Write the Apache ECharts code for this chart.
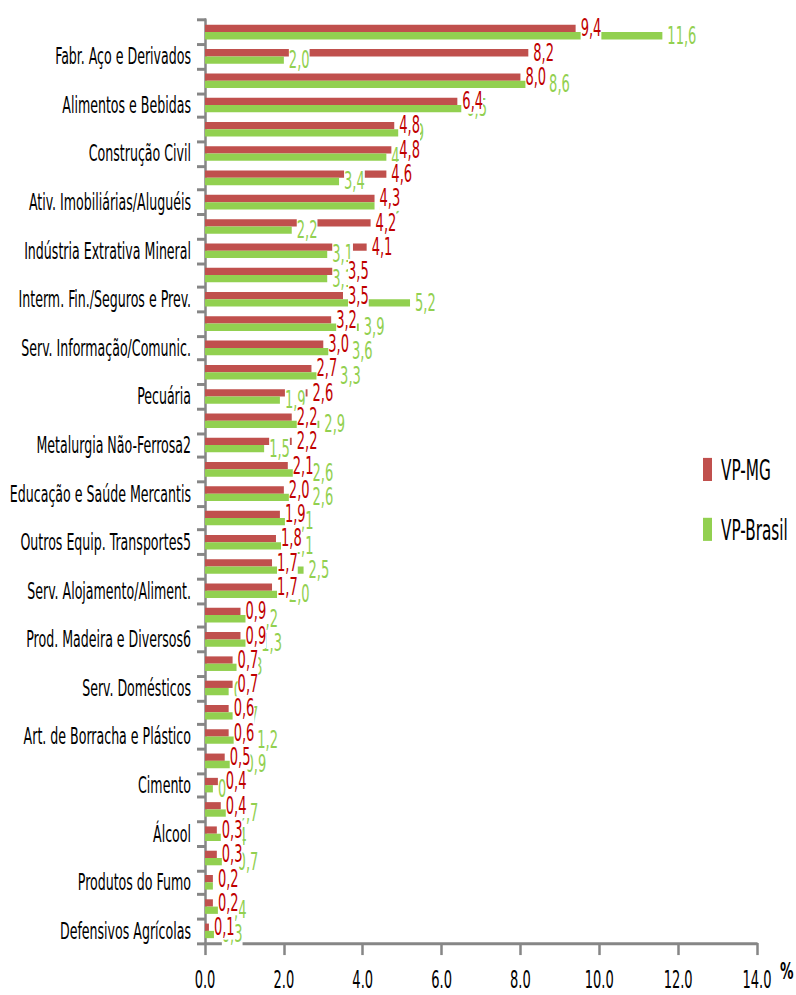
<!DOCTYPE html>
<html>
<head>
<meta charset="utf-8">
<title>VP-MG x VP-Brasil</title>
<script src="https://cdn.jsdelivr.net/npm/echarts@6/dist/echarts.min.js"></script>
<style>
  html, body { margin: 0; padding: 0; background: #ffffff; }
  body { height: 995px; }
  /* the chart is laid out shorter and stretched vertically, giving the tall, narrow lettering */
  #chart { width: 796px; height: 603px; transform: scale(1, 1.650083); transform-origin: 0 0; }
</style>
</head>
<body>
<div id="chart"></div>
<script>
// Sectors, ranked by VP-MG; only every other sector carries a printed name
const categories = [
  '', 'Fabr. Aço e Derivados',
  '', 'Alimentos e Bebidas',
  '', 'Construção Civil',
  '', 'Ativ. Imobiliárias/Aluguéis',
  '', 'Indústria Extrativa Mineral',
  '', 'Interm. Fin./Seguros e Prev.',
  '', 'Serv. Informação/Comunic.',
  '', 'Pecuária',
  '', 'Metalurgia Não-Ferrosa2',
  '', 'Educação e Saúde Mercantis',
  '', 'Outros Equip. Transportes5',
  '', 'Serv. Alojamento/Aliment.',
  '', 'Prod. Madeira e Diversos6',
  '', 'Serv. Domésticos',
  '', 'Art. de Borracha e Plástico',
  '', 'Cimento',
  '', 'Álcool',
  '', 'Produtos do Fumo',
  '', 'Defensivos Agrícolas'
];

// Share of the production value (%)
const vpMG = [
  9.4, 8.2, 8.0, 6.4, 4.8, 4.8, 4.6, 4.3, 4.2, 4.1,
  3.5, 3.5, 3.2, 3.0, 2.7, 2.6, 2.2, 2.2, 2.1, 2.0,
  1.9, 1.8, 1.7, 1.7, 0.9, 0.9, 0.7, 0.7, 0.6, 0.6,
  0.5, 0.4, 0.4, 0.3, 0.3, 0.2, 0.2, 0.1
];
const vpBrasil = [
  11.6, 2.0, 8.6, 6.5, 4.9, 4.6, 3.4, 4.3, 2.2, 3.1,
  3.1, 5.2, 3.9, 3.6, 3.3, 1.9, 2.9, 1.5, 2.6, 2.6,
  2.1, 2.1, 2.5, 2.0, 1.2, 1.3, 0.8, 0.6, 0.7, 1.2,
  0.9, 0.2, 0.7, 0.4, 0.7, 0.2, 0.4, 0.3
];

const seriesNames = ['VP-MG', 'VP-Brasil'];

// Value axis ticks: 0.0 .. 14.0 every 2.0
const xMin = 0, xMax = 14, xStep = 2;
const xUnit = '%';

const FONT = "'DejaVu Sans Condensed', 'Liberation Sans Narrow', 'DejaVu Sans', sans-serif";
const RED = '#C0504D';
const RED_TEXT = '#C00000';
const GREEN = '#92D050';
const AXIS = '#868686';

const commaFmt = v => v.toFixed(1).replace('.', ',');

const barBase = {
  type: 'bar',
  barCategoryGap: '40%',
  barGap: '0%',
  silent: true,
  animation: false
};

// Label-only copies of the bars sit on a hidden twin axis so that every
// value box is painted above all bars, MG boxes above Brasil boxes.
function labelSeries(name, data, color, z) {
  return Object.assign({}, barBase, {
    name: name,
    yAxisIndex: 1,
    data: data,
    z: z,
    itemStyle: { color: 'rgba(0,0,0,0)' },
    label: {
      show: true,
      position: 'right',
      distance: 5,
      formatter: p => commaFmt(p.value),
      fontFamily: FONT,
      fontSize: 14.5,
      lineHeight: 15,
      color: color,
      backgroundColor: '#ffffff',
      padding: [0, 0]
    }
  });
}

const chart = echarts.init(document.getElementById('chart'), null, { renderer: 'svg' });

chart.setOption({
  animation: false,
  backgroundColor: '#ffffff',
  grid: {
    left: 205,
    right: 39,
    top: 12.1,
    bottom: 31.5,
    containLabel: false,
    outerBoundsMode: 'none'
  },
  legend: {
    data: seriesNames,
    orient: 'vertical',
    left: 703,
    top: 276,
    padding: 0,
    icon: 'rect',
    itemWidth: 9,
    itemHeight: 14,
    itemGap: 19.3,
    selectedMode: false,
    textStyle: {
      fontFamily: FONT,
      fontSize: 17,
      lineHeight: 14,
      color: '#000000',
      padding: [0, 0, 0, 4]
    }
  },
  xAxis: {
    type: 'value',
    min: xMin,
    max: xMax,
    interval: xStep,
    name: xUnit,
    nameLocation: 'end',
    nameGap: 23,
    nameTextStyle: {
      fontFamily: "'DejaVu Sans', sans-serif",
      fontWeight: 'bold',
      fontSize: 13.5,
      color: '#000000',
      align: 'left',
      verticalAlign: 'top',
      padding: [10, 0, 0, 0]
    },
    axisLine: { show: true, onZero: false, lineStyle: { color: AXIS, width: 1.8 } },
    axisTick: { show: true, length: 7.3, lineStyle: { color: AXIS, width: 2.5 } },
    splitLine: { show: false },
    axisLabel: {
      margin: 17,
      fontFamily: FONT,
      fontSize: 14.5,
      lineHeight: 11,
      color: '#000000',
      formatter: v => v.toFixed(1)
    }
  },
  yAxis: [
    {
      type: 'category',
      inverse: true,
      data: categories,
      axisLine: { show: true, lineStyle: { color: AXIS, width: 2.5 } },
      axisTick: { show: true, interval: 0, length: 8, lineStyle: { color: AXIS, width: 1.8 } },
      splitLine: { show: false },
      axisLabel: {
        interval: 0,
        margin: 14,
        fontFamily: FONT,
        fontSize: 14,
        color: '#000000'
      }
    },
    {
      type: 'category',
      inverse: true,
      data: categories,
      show: false
    }
  ],
  series: [
    Object.assign({}, barBase, {
      name: seriesNames[0], yAxisIndex: 0, data: vpMG, z: 2,
      itemStyle: { color: RED }
    }),
    Object.assign({}, barBase, {
      name: seriesNames[1], yAxisIndex: 0, data: vpBrasil, z: 2,
      itemStyle: { color: GREEN }
    }),
    labelSeries('rótulos ' + seriesNames[0], vpMG, RED_TEXT, 4),
    labelSeries('rótulos ' + seriesNames[1], vpBrasil, GREEN, 3)
  ]
});
</script>
</body>
</html>
